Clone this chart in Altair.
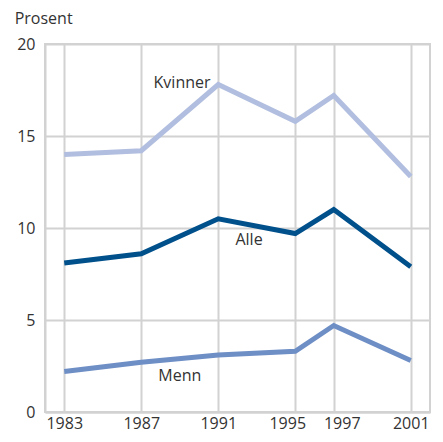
import altair as alt
import pandas as pd

years = [1983, 1987, 1991, 1995, 1997, 2001]
kvinner = [14.0, 14.2, 17.8, 15.8, 17.2, 12.8]
alle = [8.1, 8.6, 10.5, 9.7, 11.0, 7.9]
menn = [2.2, 2.7, 3.1, 3.3, 4.7, 2.8]
series = ["Kvinner", "Alle", "Menn"]
colors = ["#b1bedf", "#00508c", "#6e8ec6"]

label_text = ["Kvinner", "Alle", "Menn"]
label_x = [1990.6, 1992.6, 1989.0]
label_y = [17.9, 9.35, 1.94]
label_align = ["right", "center", "center"]

rows = []
for name, vals in zip(series, [kvinner, alle, menn]):
    for yr, v in zip(years, vals):
        rows.append({"year": yr, "value": v, "series": name})
df = pd.DataFrame(rows)

labels = pd.DataFrame({"text": label_text, "x": label_x, "y": label_y, "align": label_align})

font = "Open Sans"
xscale = alt.Scale(domain=[1982, 2002], nice=False, zero=False)
yscale = alt.Scale(domain=[0, 20], nice=False)

lines = alt.Chart(df).mark_line(strokeWidth=5, strokeCap="butt", strokeJoin="miter").encode(
    x=alt.X("year:Q", scale=xscale,
            axis=alt.Axis(values=years, format="d", title=None, ticks=False, labelPadding=3,
                          labelFontSize=16, labelColor="#333333", labelFont=font,
                          labelOffset={"condition": [{"test": "datum.value == 1995", "value": -8},
                                                     {"test": "datum.value == 1997", "value": 8}],
                                       "value": 0},
                          gridColor="#d2d2d2", gridWidth=2, domainColor="#d2d2d2", domainWidth=2,
                          labelFlush=False, labelOverlap=False)),
    y=alt.Y("value:Q", scale=yscale,
            axis=alt.Axis(values=[0, 5, 10, 15, 20], title=None, ticks=False, labelPadding=10,
                          labelFontSize=16, labelColor="#333333", labelFont=font,
                          gridColor="#d2d2d2", gridWidth=2, domainColor="#d2d2d2", domainWidth=2)),
    color=alt.Color("series:N", scale=alt.Scale(domain=series, range=colors), legend=None),
    detail="series:N",
)

def label_layer(i):
    d = labels.iloc[[i]]
    return alt.Chart(d).mark_text(fontSize=16, font=font, color="#333333",
                                  align=label_align[i], baseline="middle").encode(
        x=alt.X("x:Q", scale=xscale), y=alt.Y("y:Q", scale=yscale), text="text:N")

chart = alt.layer(lines, label_layer(0), label_layer(1), label_layer(2)).properties(
    width=385, height=368,
    autosize=alt.AutoSizeParams(type="none"),
    padding={"left": 37, "top": 36, "right": 4, "bottom": 22},
    title=alt.TitleParams("Prosent", anchor="start", fontSize=16, font=font, color="#333333",
                          fontWeight="normal", dx=-2, offset=9),
).configure_view(stroke="#d2d2d2", strokeWidth=2)

chart.save("out.html", embed_options={"renderer": "svg", "actions": False})
